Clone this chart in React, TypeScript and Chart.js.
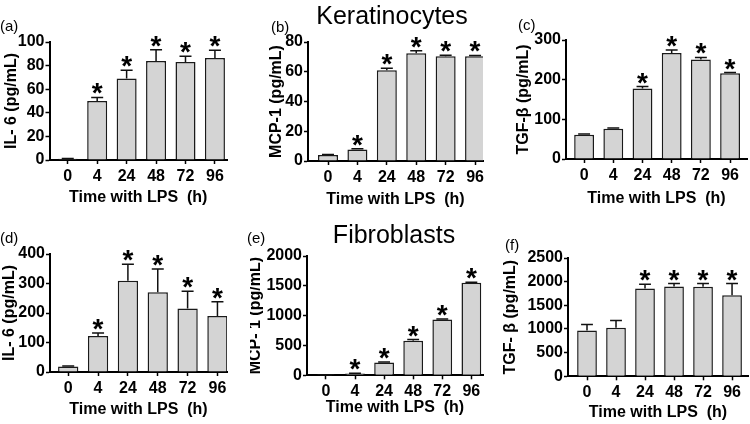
import React, { useEffect, useRef } from "react";
import { Chart, registerables } from "chart.js";

Chart.register(...registerables);

const FONT = "'Liberation Sans', Arial, Helvetica, sans-serif";

// Shared categories (hours with LPS)
const hours = ["0", "4", "24", "48", "72", "96"];
const xTitleText = "Time with LPS  (h)";

// (a) Keratinocytes IL-6
const il6KerMean = [1, 50, 69, 84, 83, 86.5];
const il6KerSd = [0.3, 3, 7, 9.5, 5, 6.5];
const il6KerStar = [false, true, true, true, true, true];
const il6KerTicks = [0, 100, 20];

// (b) Keratinocytes MCP-1
const mcpKerMean = [4, 7.8, 61, 72.5, 70.5, 70.5];
const mcpKerSd = [0.3, 0.4, 1.3, 1.6, 0.6, 0.5];
const mcpKerStar = [false, true, true, true, true, true];
const mcpKerTicks = [0, 80, 20];

// (c) Keratinocytes TGF-beta
const tgfKerMean = [61, 76, 178, 267, 251, 216];
const tgfKerSd = [2, 2, 4.5, 8, 5, 2];
const tgfKerStar = [false, false, true, true, true, true];
const tgfKerTicks = [0, 300, 100];

// (d) Fibroblasts IL-6
const il6FibMean = [19, 122, 309, 270, 215, 190];
const il6FibSd = [1.5, 10, 56, 79, 59, 48];
const il6FibStar = [false, true, true, true, true, true];
const il6FibTicks = [0, 400, 100];

// (e) Fibroblasts MCP-1
const mcpFibMean = [5, 30, 215, 580, 935, 1550];
const mcpFibSd = [2, 5, 8, 20, 10, 10];
const mcpFibStar = [false, true, true, true, true, true];
const mcpFibTicks = [0, 2000, 500];

// (f) Fibroblasts TGF-beta
const tgfFibMean = [970, 1025, 1855, 1900, 1890, 1713];
const tgfFibSd = [127, 155, 90, 60, 70, 246];
const tgfFibStar = [false, false, true, true, true, true];
const tgfFibTicks = [0, 2500, 500];

type Layout = {
  left: number; top: number;
  yW: number; xH: number; padTop: number; padRight: number;
  xMin: number; xMax: number; xTitlePad: number; yTitlePad: number;
};

type PanelProps = {
  means: number[]; sds: number[]; stars: boolean[]; ticks: number[];
  yTitle: string; lay: Layout;
};

function makeErrPlugin(means: number[], sds: number[], stars: boolean[]) {
  return {
    id: "errStars",
    afterDatasetsDraw(chart: any) {
      const ctx = chart.ctx;
      const meta = chart.getDatasetMeta(0);
      const yScale = chart.scales.y;
      ctx.save();
      ctx.strokeStyle = "#111";
      ctx.lineWidth = 1.5;
      ctx.font = `bold 28px ${FONT}`;
      ctx.fillStyle = "#000";
      ctx.textAlign = "center";
      ctx.textBaseline = "alphabetic";
      const m = ctx.measureText("*");
      meta.data.forEach((el: any, i: number) => {
        const x = el.x;
        const yTop = yScale.getPixelForValue(means[i]);
        const yErr = yScale.getPixelForValue(means[i] + sds[i]);
        const half = Math.min(6, el.width * 0.3);
        ctx.beginPath();
        ctx.moveTo(x, yTop);
        ctx.lineTo(x, yErr);
        ctx.moveTo(x - half, yErr);
        ctx.lineTo(x + half, yErr);
        ctx.stroke();
        if (stars[i]) {
          const y = yErr - 3 - m.actualBoundingBoxDescent;
          ctx.fillText("*", x, y);
        }
      });
      ctx.restore();
    },
  };
}

function Panel({ means, sds, stars, ticks, yTitle, lay }: PanelProps) {
  const ref = useRef<HTMLCanvasElement | null>(null);
  useEffect(() => {
    if (!ref.current) return;
    const tickFont = { family: FONT, size: 16, weight: "bold" as const };
    const titleFont = { family: FONT, size: 16, weight: "bold" as const, lineHeight: 1 };
    const chart = new Chart(ref.current, {
      type: "bar",
      data: {
        datasets: [
          {
            data: means.map((v, i) => ({ x: i, y: v })),
            backgroundColor: "#d4d4d4",
            borderColor: "#1a1a1a",
            borderWidth: 1.5,
            categoryPercentage: 0.8,
            barPercentage: 0.85,
          } as any,
        ],
      },
      options: {
        animation: false,
        responsive: false,
        events: [],
        layout: { padding: { top: lay.padTop, right: lay.padRight, left: 0, bottom: 0 } },
        plugins: { legend: { display: false }, tooltip: { enabled: false } },
        scales: {
          x: {
            type: "linear",
            min: lay.xMin,
            max: lay.xMax,
            offset: false,
            ticks: {
              stepSize: 1,
              includeBounds: false,
              autoSkip: false,
              maxRotation: 0,
              padding: 3,
              color: "#000",
              font: tickFont,
              callback: (v: any) => {
                const n = Number(v);
                return Number.isInteger(n) && n >= 0 && n < hours.length ? hours[n] : "";
              },
            },
            grid: {
              display: true,
              offset: false,
              drawOnChartArea: false,
              drawTicks: true,
              tickLength: 4,
              tickWidth: 1.5,
              tickColor: "#000",
            },
            border: { display: true, color: "#000", width: 2 },
            title: {
              display: true,
              text: xTitleText,
              color: "#000",
              font: titleFont,
              padding: { top: 0, bottom: lay.xTitlePad },
            },
            afterFit: (s: any) => { s.height = lay.xH; },
          },
          y: {
            min: ticks[0],
            max: ticks[1],
            ticks: {
              stepSize: ticks[2],
              padding: 1,
              color: "#000",
              font: tickFont,
              callback: (v: any) => String(v),
            },
            grid: {
              display: true,
              drawOnChartArea: false,
              drawTicks: true,
              tickLength: 4,
              tickWidth: 1.5,
              tickColor: "#000",
            },
            border: { display: true, color: "#000", width: 2 },
            title: {
              display: true,
              text: yTitle,
              color: "#000",
              font: titleFont,
              padding: { top: lay.yTitlePad, bottom: 0 },
            },
            afterFit: (s: any) => { s.width = lay.yW; },
          },
        },
      } as any,
      plugins: [makeErrPlugin(means, sds, stars)],
    });
    return () => chart.destroy();
  }, []);
  return (
    <canvas
      ref={ref}
      width={250}
      height={212}
      style={{ position: "absolute", left: lay.left, top: lay.top, width: 250, height: 212 }}
    />
  );
}

const labelStyle = (left: number, top: number): React.CSSProperties => ({
  position: "absolute", left, top, fontFamily: FONT, fontSize: 15, lineHeight: "15px", color: "#000",
});

const bigTitleStyle = (cx: number, top: number): React.CSSProperties => ({
  position: "absolute", left: cx - 100, width: 200, top, textAlign: "center",
  fontFamily: FONT, fontSize: 25, lineHeight: "25px", color: "#000",
});

export default function App() {
  useEffect(() => {
    document.body.style.margin = "0";
  }, []);
  return (
    <div style={{ position: "relative", width: 750, height: 424, background: "#fff", overflow: "hidden" }}>
      <Panel means={il6KerMean} sds={il6KerSd} stars={il6KerStar} ticks={il6KerTicks} yTitle="IL- 6 (pg/mL)"
        lay={{ left: 0, top: 0, yW: 49.5, xH: 52, padTop: 42, padRight: 23, xMin: -0.62, xMax: 5.41, xTitlePad: 6, yTitlePad: 3.5 }} />
      <Panel means={mcpKerMean} sds={mcpKerSd} stars={mcpKerStar} ticks={mcpKerTicks} yTitle="MCP-1 (pg/mL)"
        lay={{ left: 250, top: 0, yW: 58, xH: 51, padTop: 42, padRight: 17, xMin: -0.68, xMax: 5.27, xTitlePad: 4.5, yTitlePad: 19 }} />
      <Panel means={tgfKerMean} sds={tgfKerSd} stars={tgfKerStar} ticks={tgfKerTicks} yTitle="TGF-β (pg/mL)"
        lay={{ left: 500, top: 0, yW: 66, xH: 53, padTop: 40, padRight: 3, xMin: -0.62, xMax: 5.58, xTitlePad: 5.5, yTitlePad: 16 }} />
      <Panel means={il6FibMean} sds={il6FibSd} stars={il6FibStar} ticks={il6FibTicks} yTitle="IL- 6 (pg/mL)"
        lay={{ left: 0, top: 212, yW: 50, xH: 52, padTop: 42, padRight: 23, xMin: -0.61, xMax: 5.32, xTitlePad: 6.5, yTitlePad: 1.2 }} />
      <Panel means={mcpFibMean} sds={mcpFibSd} stars={mcpFibStar} ticks={mcpFibTicks} yTitle="MCP- 1 (pg/mL)"
        lay={{ left: 250, top: 212, yW: 57, xH: 48.7, padTop: 44, padRight: 17, xMin: -0.65, xMax: 5.4, xTitlePad: 8, yTitlePad: -2 }} />
      <Panel means={tgfFibMean} sds={tgfFibSd} stars={tgfFibStar} ticks={tgfFibTicks} yTitle="TGF- β (pg/mL)"
        lay={{ left: 500, top: 212, yW: 68, xH: 47.7, padTop: 46, padRight: 2, xMin: -0.655, xMax: 5.55, xTitlePad: 3.5, yTitlePad: 3 }} />
      <div style={labelStyle(0, 18)}>(a)</div>
      <div style={labelStyle(271, 19)}>(b)</div>
      <div style={labelStyle(518, 16.5)}>(c)</div>
      <div style={labelStyle(0, 230)}>(d)</div>
      <div style={labelStyle(247, 230)}>(e)</div>
      <div style={labelStyle(505, 237)}>(f)</div>
      <div style={bigTitleStyle(392, 2.7)}>Keratinocytes</div>
      <div style={bigTitleStyle(394, 221.7)}>Fibroblasts</div>
    </div>
  );
}
